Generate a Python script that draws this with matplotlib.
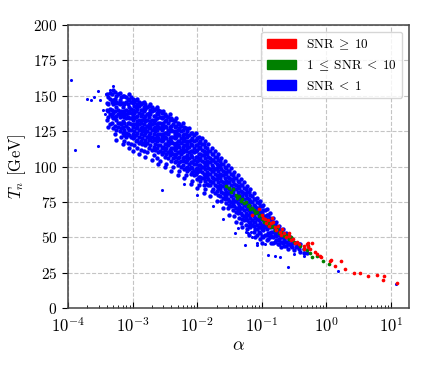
import matplotlib.pyplot as plt
from matplotlib.patches import Patch
from matplotlib.ticker import LogLocator

plt.rcParams['font.family'] = 'serif'
plt.rcParams['font.serif'] = ['cmr10', 'DejaVu Serif']
plt.rcParams['mathtext.fontset'] = 'cm'
plt.rcParams['axes.formatter.use_mathtext'] = True

# SNR < 1 : main band, read column by column (log10 alpha, list of T_n)
blue_cols = [
    (-3.40, [151, 145, 140, 133]),
    (-3.375, [149, 144, 139, 135, 128]),
    (-3.35, [152, 148, 141, 137, 130]),
    (-3.325, [151, 146, 140, 136, 131]),
    (-3.30, [154, 147, 144, 138, 134, 127]),
    (-3.275, [153, 148, 145, 139, 135, 129, 123]),
    (-3.25, [150, 146, 142, 136, 133, 126, 119]),
    (-3.225, [151, 145, 140, 137, 131, 128]),
    (-3.20, [152, 147, 144, 138, 135, 131, 125]),
    (-3.175, [149, 145, 139, 136, 130, 127, 121]),
    (-3.15, [150, 145, 142, 137, 132, 128, 124, 116]),
    (-3.125, [150, 144, 139, 135, 131, 126, 122, 118]),
    (-3.10, [149, 146, 140, 137, 134, 129, 124, 121]),
    (-3.075, [148, 144, 138, 135, 131, 127, 123, 117]),
    (-3.05, [151, 147, 142, 139, 134, 131, 126, 122, 113]),
    (-3.025, [149, 146, 141, 138, 134, 130, 126, 121, 116]),
    (-3.00, [148, 145, 140, 136, 133, 128, 123, 120, 111]),
    (-2.975, [146, 143, 138, 134, 130, 125, 121, 115]),
    (-2.95, [147, 142, 139, 135, 130, 127, 122, 118]),
    (-2.925, [148, 144, 141, 136, 132, 128, 124, 119, 113]),
    (-2.90, [146, 143, 138, 133, 130, 126, 121, 117, 109]),
    (-2.875, [144, 140, 136, 131, 127, 123, 118, 112]),
    (-2.85, [145, 140, 137, 133, 128, 125, 120, 116]),
    (-2.825, [146, 142, 139, 134, 130, 126, 122, 117, 111]),
    (-2.80, [144, 141, 136, 132, 127, 124, 119, 115, 107]),
    (-2.775, [142, 137, 133, 129, 125, 121, 117, 110]),
    (-2.75, [143, 138, 135, 130, 127, 122, 119, 113]),
    (-2.725, [144, 140, 137, 132, 128, 124, 120, 115]),
    (-2.70, [142, 139, 133, 130, 126, 121, 118, 112, 105]),
    (-2.675, [140, 136, 131, 127, 123, 119, 114, 108]),
    (-2.65, [141, 136, 133, 128, 125, 120, 116, 112]),
    (-2.625, [142, 138, 134, 130, 126, 122, 118, 113, 106]),
    (-2.60, [140, 137, 131, 128, 123, 120, 115, 110, 102]),
    (-2.575, [139, 135, 131, 127, 123, 119, 115, 111, 104]),
    (-2.55, [138, 134, 129, 126, 121, 118, 113, 109]),
    (-2.525, [139, 135, 131, 127, 123, 119, 114, 110]),
    (-2.50, [137, 132, 129, 124, 121, 116, 112, 107, 100]),
    (-2.475, [136, 133, 128, 124, 120, 116, 113, 109, 102]),
    (-2.45, [135, 131, 126, 123, 118, 115, 110, 106]),
    (-2.425, [137, 133, 128, 125, 120, 117, 112, 108]),
    (-2.40, [134, 129, 126, 121, 118, 113, 110, 104, 97]),
    (-2.375, [133, 130, 125, 121, 117, 113, 109, 106, 100]),
    (-2.35, [132, 128, 123, 120, 115, 112, 107, 103]),
    (-2.325, [134, 129, 125, 121, 117, 113, 109, 104]),
    (-2.30, [131, 126, 123, 118, 115, 110, 106, 101, 94]),
    (-2.275, [130, 127, 122, 118, 114, 110, 107, 103, 97]),
    (-2.25, [129, 125, 120, 117, 112, 109, 104, 100]),
    (-2.225, [131, 126, 122, 118, 114, 110, 106, 101]),
    (-2.20, [128, 123, 120, 115, 112, 107, 104, 98, 92]),
    (-2.175, [127, 123, 118, 115, 111, 107, 103, 99, 94]),
    (-2.15, [125, 121, 116, 113, 108, 105, 100, 97]),
    (-2.125, [127, 122, 118, 114, 110, 106, 102, 98]),
    (-2.10, [124, 119, 116, 111, 108, 103, 100, 95, 88]),
    (-2.075, [124, 120, 115, 111, 107, 103, 99, 96, 90]),
    (-2.05, [122, 118, 113, 110, 105, 102, 97, 94]),
    (-2.025, [124, 119, 115, 111, 107, 102, 98, 95]),
    (-2.00, [120, 115, 112, 107, 104, 99, 96, 91, 85]),
    (-1.975, [121, 117, 113, 109, 105, 101, 97, 93, 87]),
    (-1.95, [118, 114, 109, 106, 101, 98, 93, 90]),
    (-1.925, [120, 116, 112, 108, 104, 100, 96, 92]),
    (-1.90, [116, 111, 108, 103, 100, 95, 92, 87, 81]),
    (-1.875, [118, 114, 110, 106, 102, 98, 94, 90, 84]),
    (-1.85, [113, 109, 104, 101, 96, 93, 88]),
    (-1.825, [116, 111, 107, 103, 99, 95, 91, 87]),
    (-1.80, [111, 106, 103, 98, 95, 90, 87, 79]),
    (-1.775, [113, 109, 105, 101, 97, 93, 89, 83]),
    (-1.75, [109, 105, 100, 97, 92, 89, 84]),
    (-1.725, [111, 107, 103, 98, 95, 91, 87, 81]),
    (-1.70, [107, 102, 99, 94, 91, 86, 83, 76]),
    (-1.675, [109, 105, 101, 97, 93, 89, 85, 80]),
    (-1.65, [104, 100, 95, 92, 87, 84, 79]),
    (-1.625, [106, 102, 98, 94, 90, 86, 82, 76]),
    (-1.60, [102, 97, 94, 89, 86, 81, 78, 71]),
    (-1.575, [104, 100, 96, 92, 88, 84, 80, 77]),
    (-1.55, [99, 95, 90, 87, 82, 79, 74]),
    (-1.525, [101, 97, 93, 89, 85, 81, 77, 71]),
    (-1.50, [97, 92, 89, 84, 81, 76, 73, 66]),
    (-1.475, [99, 95, 91, 87, 83, 79, 75, 72]),
    (-1.45, [94, 90, 85, 82, 77, 74, 69]),
    (-1.425, [96, 92, 88, 84, 80, 76, 72, 65]),
    (-1.40, [92, 87, 84, 79, 76, 71, 68, 61]),
    (-1.375, [94, 90, 86, 82, 78, 74, 70, 67]),
    (-1.35, [89, 85, 80, 77, 72, 69, 64]),
    (-1.325, [91, 87, 83, 79, 75, 71, 67, 60]),
    (-1.30, [87, 82, 79, 74, 71, 66, 63, 57]),
    (-1.275, [89, 85, 81, 77, 73, 69, 65, 62]),
    (-1.25, [84, 80, 75, 72, 67, 64, 59]),
    (-1.225, [86, 82, 78, 74, 70, 66, 62, 56]),
    (-1.20, [82, 77, 74, 69, 66, 61, 58, 52]),
    (-1.175, [84, 80, 76, 72, 68, 64, 60, 57]),
    (-1.15, [79, 75, 70, 67, 62, 59]),
    (-1.125, [81, 77, 73, 69, 65, 61, 58, 54]),
    (-1.10, [77, 72, 69, 64, 61, 56, 50]),
    (-1.075, [78, 75, 71, 67, 63, 59, 56, 52]),
    (-1.05, [74, 70, 65, 62, 57, 54]),
    (-1.025, [76, 72, 68, 64, 60, 57, 53, 49]),
    (-1.00, [72, 67, 64, 59, 56, 51, 46]),
    (-0.975, [73, 69, 65, 62, 58, 55, 50]),
    (-0.95, [69, 65, 60, 57, 52]),
    (-0.925, [70, 66, 63, 59, 56, 52, 48]),
    (-0.90, [66, 61, 58, 53, 49]),
    (-0.875, [67, 64, 60, 57, 53, 50]),
    (-0.85, [63, 59, 54, 51, 46]),
    (-0.825, [64, 61, 57, 54, 50, 46]),
    (-0.80, [60, 55, 52, 47]),
    (-0.775, [61, 58, 54, 51, 48]),
    (-0.75, [57, 53, 48, 45]),
    (-0.725, [58, 55, 52, 49, 45]),
    (-0.70, [55, 50, 47, 43]),
    (-0.675, [56, 53, 50, 46]),
    (-0.65, [52, 48, 44]),
    (-0.625, [53, 50, 47, 44]),
    (-0.60, [50, 45, 42]),
    (-0.575, [51, 48, 45]),
    (-0.55, [48, 44]),
    (-0.525, [49, 46, 43]),
    (-0.50, [46, 41]),
    (-0.475, [46, 43]),
    (-0.45, [44]),
    (-0.425, [45, 42]),
    (-0.40, [45, 40]),
    (-0.35, [42, 39]),
    (-0.30, [39]),
]

# SNR < 1 : isolated points off the band
blue_extra_logalpha = [-3.95, -3.89, -3.70, -3.65, -3.60, -3.54, -3.53, -3.50, -3.45,
                       -3.42, -3.41, -3.38, -3.35, -3.30, -2.54, -2.20, -2.00, -1.75,
                       -1.60, -1.41, -1.37, -1.26, -1.25, -1.21, -1.17, -1.15, -1.07,
                       -1.07, -0.95, -0.90, -0.80, -0.72, -0.60, -0.50, -0.35, 0.18, 1.08]
blue_extra_T = [161, 112, 148, 147, 149, 114.6, 153.6, 147, 140,
                137, 151, 145, 154, 157, 83.4, 88, 80, 72,
                63, 53, 56.5, 44.5, 54, 53, 54, 50, 44.5,
                46, 45, 37.5, 37, 36, 29, 38, 37, 26, 17]

# 1 <= SNR < 10
green_logalpha = [-1.55, -1.50, -1.48, -1.45, -1.40, -1.38, -1.35, -1.32, -1.30, -1.28,
                  -1.25, -1.22, -1.20, -1.18, -1.15, -1.12, -1.10, -1.08, -1.05, -1.03,
                  -1.00, -0.98, -0.96, -0.93, -0.90, -0.88, -0.85, -0.82, -0.80, -0.76,
                  -0.73, -0.70, -0.66, -0.62, -0.58, -0.55, -0.50, -0.46, -0.40, -0.35,
                  -0.30, -0.28, -0.25, -0.22, -0.15, -0.05, 0.04]
green_T = [86, 85, 82, 84, 80, 78, 79, 76, 77, 74,
           75, 72, 73, 70, 71, 69, 67, 68, 65, 66,
           63, 64, 61, 62, 59, 60, 57, 58, 55, 56,
           53, 54, 51, 52, 49, 50, 47, 46, 44, 42,
           41, 44, 39, 36, 37, 33, 31]

# SNR >= 10
red_logalpha = [-1.15, -1.05, -1.00, -0.98, -0.95, -0.93, -0.90, -0.88, -0.86, -0.84,
                -0.83, -0.80, -0.78, -0.75, -0.72, -0.70, -0.68, -0.65, -0.62, -0.58,
                -0.58, -0.55, -0.52, -0.48, -0.45, -0.42, -0.35, -0.35, -0.30, -0.28,
                -0.28, -0.25, -0.22, -0.18, -0.15, -0.10, -0.08, 0.05, 0.08, 0.13,
                0.22, 0.29, 0.43, 0.52, 0.65, 0.78, 0.87, 0.90, 1.10]
red_T = [66, 70, 66, 64, 63, 60, 62, 58, 60, 63.6,
         61, 57, 55, 58, 54, 52, 56, 53, 50, 51,
         53, 48, 49, 46, 47, 45, 44, 41.7, 45, 43,
         46, 42, 46, 40, 38, 37, 36, 33, 34, 30,
         33.4, 27.6, 25, 25, 22.8, 23.3, 19.8, 22.8, 18.1]

band_x, band_y = [], []
for lx, ts in blue_cols:
    for t in ts:
        band_x.append(10 ** lx)
        band_y.append(t)

fig = plt.figure(figsize=(4.3, 3.69), dpi=100)
ax = fig.add_axes([0.158, 0.165, 0.793, 0.767])

ax.scatter(band_x, band_y, s=10, c='blue', linewidths=0, zorder=2)
ax.scatter([10 ** v for v in blue_extra_logalpha], blue_extra_T, s=5, c='blue',
           linewidths=0, zorder=2)
ax.scatter([10 ** v for v in green_logalpha], green_T, s=7, c='green', linewidths=0, zorder=3)
ax.scatter([10 ** v for v in red_logalpha], red_T, s=7, c='red', linewidths=0, zorder=4)

ax.set_xscale('log')
ax.set_xlim(1e-4, 19)
ax.set_ylim(0, 200)
ax.set_yticks(range(0, 201, 25))
ax.xaxis.set_major_locator(LogLocator(base=10, numticks=10))
ax.grid(True, which='major', linestyle='--', color='#c4c4c4', linewidth=0.8)
ax.set_axisbelow(True)

ax.tick_params(axis='x', which='both', direction='in', labelsize=12, pad=6)
ax.tick_params(axis='x', which='major', length=4)
ax.tick_params(axis='x', which='minor', length=2)
ax.tick_params(axis='y', direction='out', labelsize=11, length=4)
for sp in ax.spines.values():
    sp.set_color('#444444')
    sp.set_linewidth(1.1)

ax.set_xlabel(r'$\alpha$', fontsize=13, labelpad=2)
ax.set_ylabel(r'$T_n$ [GeV]', fontsize=12)

handles = [Patch(color='red', label=r'SNR$\;\geq\;10$'),
           Patch(color='green', label=r'$1\;\leq\;$SNR$\;<\;10$'),
           Patch(color='blue', label=r'SNR$\;<\;1$')]
ax.legend(handles=handles, loc='upper right', fontsize=9.5, handlelength=2.2)

fig.savefig('out.png', dpi=100)
